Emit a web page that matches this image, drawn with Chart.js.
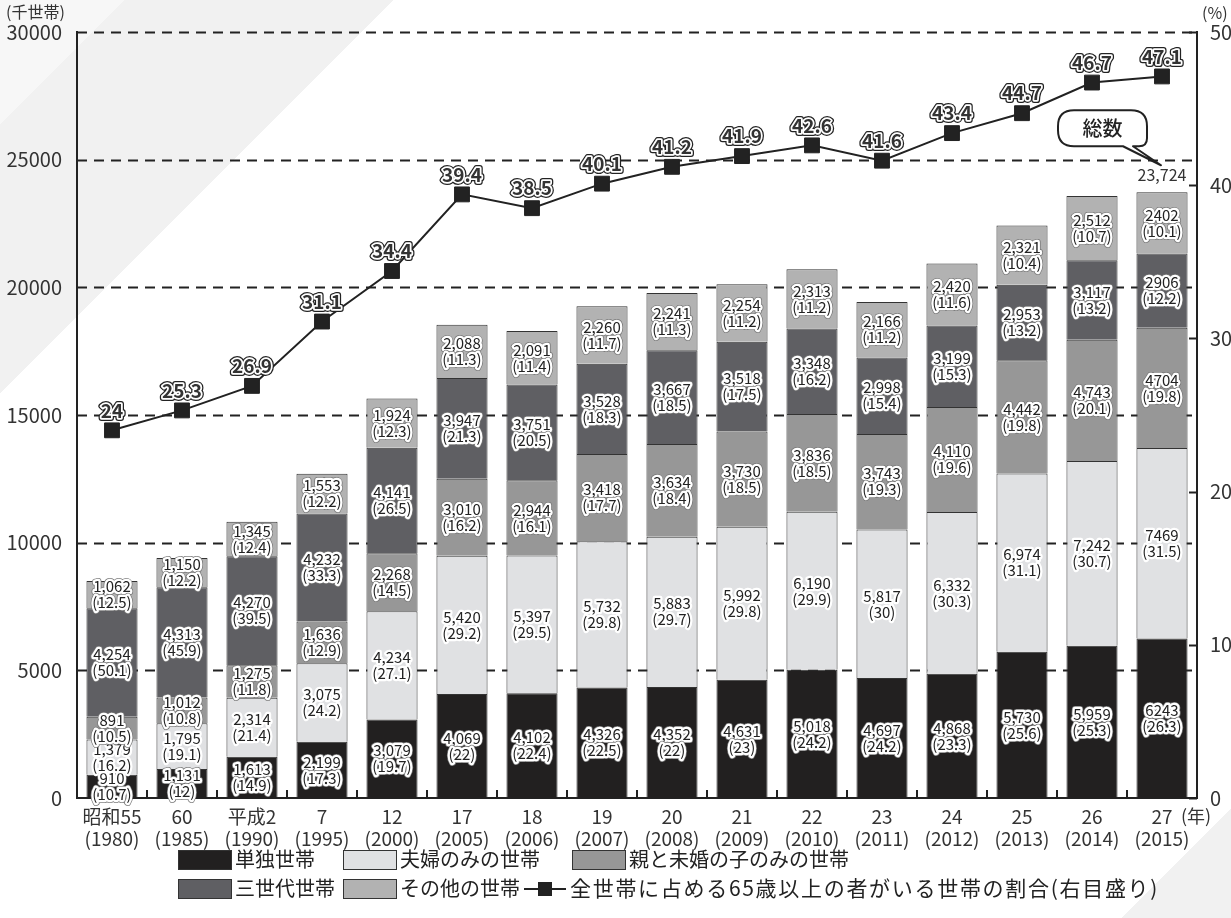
<!DOCTYPE html>
<html lang="ja">
<head>
<meta charset="utf-8">
<title>65歳以上の者のいる世帯数及び構成割合</title>
<script src="https://cdn.jsdelivr.net/npm/chart.js@4.4.1/dist/chart.umd.min.js"></script>
<style>
  html, body { margin: 0; padding: 0; }
  body {
    width: 1231px; height: 918px; overflow: hidden;
    font-family: "Noto Sans CJK JP", "Noto Sans", sans-serif;
    color: #222;
    background: linear-gradient(135deg, #f7f7f7 0 88px, #f1f1f1 88px 278px, #fff 278px 1442px, #f1f1f1 1442px);
  }
  #wrap { position: relative; width: 1231px; height: 918px; }
  #chart { position: absolute; left: 0; top: 0; }
  .lg { position: absolute; font-size: 20px; line-height: 22px; white-space: nowrap; }
  .lg .box { display: inline-block; width: 54px; height: 20px; border: 1px solid #333; vertical-align: -3px; margin-right: 3px; box-sizing: border-box; }
  .lg .mark { display: inline-block; position: relative; width: 42px; height: 20px; vertical-align: -3px; margin-right: 4px; }
  .lg .mark::before { content: ""; position: absolute; left: 0; right: 0; top: 9px; height: 2px; background: #222; }
  .lg .mark::after { content: ""; position: absolute; left: 14px; top: 3px; width: 14px; height: 14px; background: #222; }
  .lg.wide { font-size: 21px; letter-spacing: 1.7px; }
</style>
</head>
<body>
<div id="wrap">
  <canvas id="chart" width="1231" height="918"></canvas>
  <div class="lg" style="left:178px; top:848px;"><span class="box" style="background:#222020"></span>単独世帯</div>
  <div class="lg" style="left:343px; top:848px;"><span class="box" style="background:#e0e1e3"></span>夫婦のみの世帯</div>
  <div class="lg" style="left:572px; top:848px;"><span class="box" style="background:#979797"></span>親と未婚の子のみの世帯</div>
  <div class="lg" style="left:178px; top:877px;"><span class="box" style="background:#5f5f63"></span>三世代世帯</div>
  <div class="lg" style="left:343px; top:877px;"><span class="box" style="background:#b2b2b2"></span>その他の世帯</div>
  <div class="lg wide" style="left:524px; top:876px;"><span class="mark"></span>全世帯に占める65歳以上の者がいる世帯の割合(右目盛り)</div>
</div>
<script>
// 年次
const categories = [
  ['昭和55', '(1980)'], ['60', '(1985)'], ['平成2', '(1990)'], ['7', '(1995)'],
  ['12', '(2000)'], ['17', '(2005)'], ['18', '(2006)'], ['19', '(2007)'],
  ['20', '(2008)'], ['21', '(2009)'], ['22', '(2010)'], ['23', '(2011)'],
  ['24', '(2012)'], ['25', '(2013)'], ['26', '(2014)'], ['27', '(2015)']
];

// 世帯数(千世帯)
const tandoku = [910, 1131, 1613, 2199, 3079, 4069, 4102, 4326, 4352, 4631, 5018, 4697, 4868, 5730, 5959, 6243];
const fufu = [1379, 1795, 2314, 3075, 4234, 5420, 5397, 5732, 5883, 5992, 6190, 5817, 6332, 6974, 7242, 7469];
const oyako = [891, 1012, 1275, 1636, 2268, 3010, 2944, 3418, 3634, 3730, 3836, 3743, 4110, 4442, 4743, 4704];
const sansedai = [4254, 4313, 4270, 4232, 4141, 3947, 3751, 3528, 3667, 3518, 3348, 2998, 3199, 2953, 3117, 2906];
const sonota = [1062, 1150, 1345, 1553, 1924, 2088, 2091, 2260, 2241, 2254, 2313, 2166, 2420, 2321, 2512, 2402];

// 構成割合(%)
const tandokuPct = [10.7, 12, 14.9, 17.3, 19.7, 22, 22.4, 22.5, 22, 23, 24.2, 24.2, 23.3, 25.6, 25.3, 26.3];
const fufuPct = [16.2, 19.1, 21.4, 24.2, 27.1, 29.2, 29.5, 29.8, 29.7, 29.8, 29.9, 30, 30.3, 31.1, 30.7, 31.5];
const oyakoPct = [10.5, 10.8, 11.8, 12.9, 14.5, 16.2, 16.1, 17.7, 18.4, 18.5, 18.5, 19.3, 19.6, 19.8, 20.1, 19.8];
const sansedaiPct = [50.1, 45.9, 39.5, 33.3, 26.5, 21.3, 20.5, 18.3, 18.5, 17.5, 16.2, 15.4, 15.3, 13.2, 13.2, 12.2];
const sonotaPct = [12.5, 12.2, 12.4, 12.2, 12.3, 11.3, 11.4, 11.7, 11.3, 11.2, 11.2, 11.2, 11.6, 10.4, 10.7, 10.1];

// 全世帯に占める65歳以上の者がいる世帯の割合(%)
const wariai = [24, 25.3, 26.9, 31.1, 34.4, 39.4, 38.5, 40.1, 41.2, 41.9, 42.6, 41.6, 43.4, 44.7, 46.7, 47.1];

// 目盛り
const leftTicks = [0, 5000, 10000, 15000, 20000, 25000, 30000];
const rightTicks = [0, 10, 20, 30, 40, 50];

const FONT = '"Noto Sans CJK JP", "Noto Sans", sans-serif';
Chart.defaults.font.family = FONT;
Chart.defaults.color = '#333';

const barSeries = [
  { label: '単独世帯', data: tandoku, pct: tandokuPct, color: '#222020', edge: true },
  { label: '夫婦のみの世帯', data: fufu, pct: fufuPct, color: '#e0e1e3', edge: false },
  { label: '親と未婚の子のみの世帯', data: oyako, pct: oyakoPct, color: '#979797', edge: true },
  { label: '三世代世帯', data: sansedai, pct: sansedaiPct, color: '#5f5f63', edge: true },
  { label: 'その他の世帯', data: sonota, pct: sonotaPct, color: '#b2b2b2', edge: true }
];

// 2015年の値だけ元図でカンマなし
function fmt(v, i) {
  return i === categories.length - 1 ? String(v) : v.toLocaleString('en-US');
}

function haloText(ctx, text, x, y, edge) {
  ctx.lineJoin = 'round';
  if (edge) {
    ctx.strokeStyle = '#777';
    ctx.lineWidth = 6;
    ctx.strokeText(text, x, y);
  }
  ctx.strokeStyle = '#fff';
  ctx.lineWidth = 4.5;
  ctx.strokeText(text, x, y);
  ctx.fillStyle = '#222';
  ctx.fillText(text, x, y);
}

const overlay = {
  id: 'overlay',
  beforeDatasetsDraw(chart) {
    const { ctx, chartArea: a, scales: { y } } = chart;
    ctx.save();
    ctx.strokeStyle = '#222';
    ctx.lineWidth = 2;
    ctx.setLineDash([10, 7]);
    leftTicks.forEach(v => {
      if (v === 0) return;
      const py = Math.round(y.getPixelForValue(v)) + 0.5;
      ctx.beginPath();
      ctx.moveTo(a.left, py);
      ctx.lineTo(a.right, py);
      ctx.stroke();
    });
    ctx.restore();
  },
  afterDatasetsDraw(chart) {
    const { ctx, scales: { x, y } } = chart;
    ctx.save();
    ctx.textAlign = 'center';
    ctx.textBaseline = 'middle';

    // 棒の中の数値
    ctx.font = '15px ' + FONT;
    barSeries.forEach((s, di) => {
      const meta = chart.getDatasetMeta(di);
      meta.data.forEach((el, i) => {
        const cy = (el.y + el.base) / 2;
        haloText(ctx, fmt(s.data[i], i), el.x, cy - 8, s.edge);
        haloText(ctx, '(' + s.pct[i] + ')', el.x, cy + 8, s.edge);
      });
    });

    // 折れ線の数値
    const lineMeta = chart.getDatasetMeta(barSeries.length);
    ctx.font = 'bold 19px ' + FONT;
    lineMeta.data.forEach((pt, i) => {
      const t = String(wariai[i]);
      const ty = pt.y - 20;
      ctx.lineJoin = 'round';
      ctx.strokeStyle = '#222';
      ctx.lineWidth = 6;
      ctx.strokeText(t, pt.x, ty);
      ctx.strokeStyle = '#fff';
      ctx.lineWidth = 3.5;
      ctx.strokeText(t, pt.x, ty);
      ctx.fillStyle = '#333';
      ctx.fillText(t, pt.x, ty);
    });

    // 総数と吹き出し
    const last = categories.length - 1;
    const total = barSeries.reduce((sum, s) => sum + s.data[last], 0);
    const bx = x.getPixelForValue(last);
    const topY = y.getPixelForValue(total);
    const ty = topY - 17;
    ctx.font = '16px ' + FONT;
    ctx.fillStyle = '#333';
    ctx.fillText(total.toLocaleString('en-US'), bx, ty);

    const bl = bx - 104, br = bx - 15, bt = ty - 65, bb = ty - 29, r = 16;
    ctx.beginPath();
    ctx.moveTo(bl + r, bt);
    ctx.lineTo(br - r, bt);
    ctx.quadraticCurveTo(br, bt, br, bt + r);
    ctx.lineTo(br, bb - 8);
    ctx.quadraticCurveTo(br, bb, br - 8, bb);
    ctx.lineTo(br - 14, bb);
    ctx.lineTo(bx - 1, ty - 10);
    ctx.lineTo(br - 24, bb);
    ctx.lineTo(bl + r, bb);
    ctx.quadraticCurveTo(bl, bb, bl, bb - r);
    ctx.lineTo(bl, bt + r);
    ctx.quadraticCurveTo(bl, bt, bl + r, bt);
    ctx.closePath();
    ctx.fillStyle = '#fff';
    ctx.fill();
    ctx.strokeStyle = '#222';
    ctx.lineWidth = 2;
    ctx.stroke();
    ctx.font = '500 20px ' + FONT;
    ctx.fillStyle = '#222';
    ctx.fillText('総数', (bl + br) / 2, (bt + bb) / 2);
    ctx.restore();
  },
  afterDraw(chart) {
    const { ctx, chartArea: a, scales: { x, y2 } } = chart;
    ctx.save();
    ctx.strokeStyle = '#222';
    ctx.lineWidth = 2;
    // 横軸の目盛り(内向き)
    const step = x.getPixelForValue(1) - x.getPixelForValue(0);
    for (let i = 0; i <= categories.length; i++) {
      const px = Math.round(x.getPixelForValue(0) - step / 2 + i * step);
      ctx.beginPath();
      ctx.moveTo(px, a.bottom);
      ctx.lineTo(px, a.bottom - 8);
      ctx.stroke();
    }
    // 右軸の目盛り(内向き)
    rightTicks.forEach(v => {
      const py = Math.round(y2.getPixelForValue(v)) + 0.5;
      ctx.beginPath();
      ctx.moveTo(a.right - 8, py);
      ctx.lineTo(a.right, py);
      ctx.stroke();
    });
    // 単位
    ctx.fillStyle = '#333';
    ctx.textBaseline = 'middle';
    ctx.font = '16px ' + FONT;
    ctx.textAlign = 'left';
    ctx.fillText('(千世帯)', 6, 12);
    ctx.fillText('(%)', 1202, 13);
    ctx.font = '18px ' + FONT;
    ctx.fillText('(年)', 1181, 816);
    ctx.restore();
  }
};

const datasets = barSeries.map(s => ({
  type: 'bar',
  label: s.label,
  data: s.data,
  backgroundColor: s.color,
  borderColor: '#333',
  borderWidth: 1,
  barPercentage: 0.73,
  categoryPercentage: 1,
  yAxisID: 'y',
  order: 2
}));

datasets.push({
  type: 'line',
  label: '全世帯に占める65歳以上の者がいる世帯の割合(右目盛り)',
  data: wariai,
  yAxisID: 'y2',
  borderColor: '#222',
  borderWidth: 2,
  pointStyle: 'rect',
  pointRadius: 10.5,
  pointBackgroundColor: '#222',
  pointBorderColor: '#222',
  pointBorderWidth: 1,
  tension: 0,
  order: 1
});

new Chart(document.getElementById('chart'), {
  data: { labels: categories, datasets: datasets },
  options: {
    responsive: false,
    animation: false,
    layout: { padding: { top: 32, left: 0, right: 0, bottom: 0 } },
    plugins: { legend: { display: false }, tooltip: { enabled: false } },
    scales: {
      x: {
        stacked: true,
        offset: true,
        grid: { display: false },
        border: { display: true, color: '#222', width: 2 },
        ticks: { font: { size: 19, lineHeight: 1.15 }, padding: 0, maxRotation: 0, autoSkip: false, color: '#333' },
        afterFit(scale) { scale.height = 120; }
      },
      y: {
        stacked: true,
        position: 'left',
        min: 0,
        max: 30000,
        grid: { display: false },
        border: { display: true, color: '#222', width: 2 },
        afterBuildTicks(scale) { scale.ticks = leftTicks.map(v => ({ value: v })); },
        ticks: { font: { size: 20 }, padding: 7, color: '#333', callback: v => String(v) },
        afterFit(scale) { scale.width = 77; }
      },
      y2: {
        position: 'right',
        min: 0,
        max: 50,
        grid: { display: false },
        border: { display: true, color: '#222', width: 2 },
        afterBuildTicks(scale) { scale.ticks = rightTicks.map(v => ({ value: v })); },
        ticks: { font: { size: 20 }, padding: 5, color: '#333', callback: v => String(v) },
        afterFit(scale) { scale.width = 34; }
      }
    }
  },
  plugins: [overlay]
});
</script>
</body>
</html>
